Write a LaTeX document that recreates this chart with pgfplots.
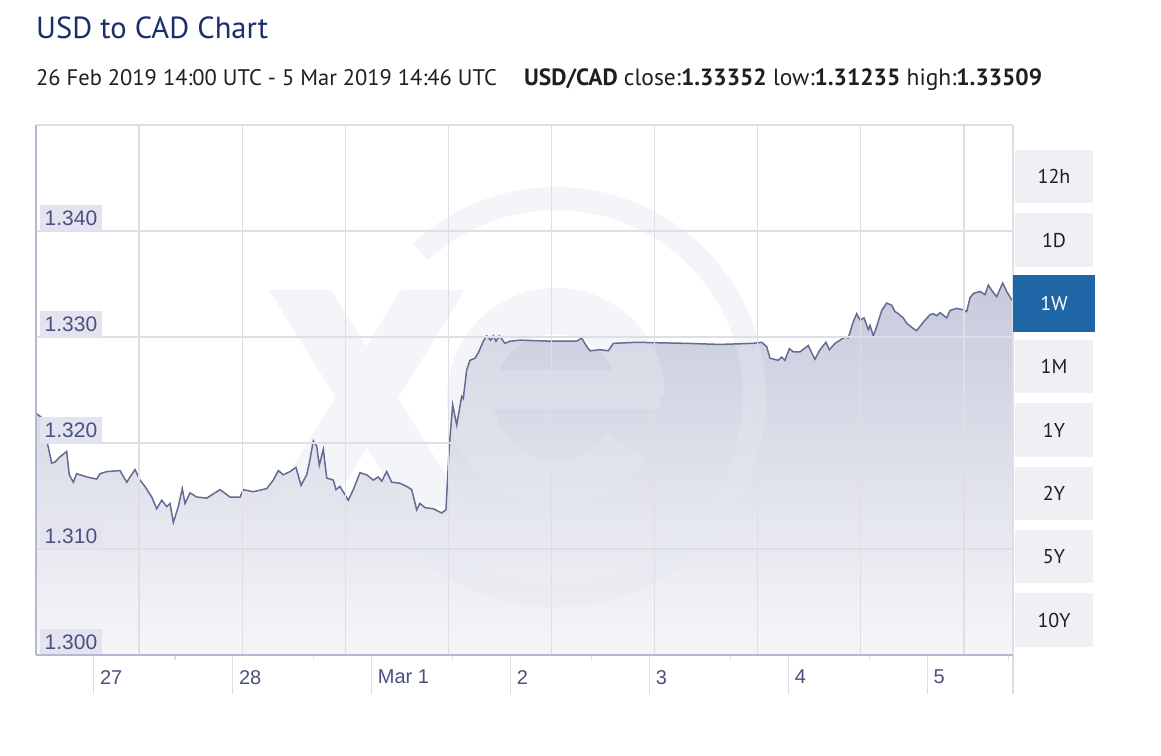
\documentclass[border=0pt]{standalone}
\usepackage{pgfplots}
\pgfplotsset{compat=1.18}
\usepackage{pgfplotstable}
\usepackage{fontspec}
\setmainfont{Liberation Sans}
\newfontfamily\ssp{PT Sans}
\definecolor{titleblue}{HTML}{1B2E6B}
\definecolor{linec}{HTML}{646B95}
\definecolor{labtext}{HTML}{4A5180}
\definecolor{labbg}{HTML}{E3E4EF}
\definecolor{gridc}{HTML}{DEDEE4}
\definecolor{axisc}{HTML}{B5B8D4}
\definecolor{btnbg}{HTML}{EFEFF4}
\definecolor{btnsel}{HTML}{1F66A6}
\definecolor{filltop}{HTML}{C7CADC}
\definecolor{fillbot}{HTML}{F6F6F9}
\definecolor{wm}{HTML}{E6E8F0}

% hours since 26 Feb 2019 14:00 UTC, USD/CAD rate
\pgfplotstableread{
h v
0.00 1.3228
0.98 1.3224
1.85 1.3203
2.71 1.3181
3.28 1.3182
4.15 1.3187
5.30 1.3192
5.75 1.3170
6.44 1.3163
7.03 1.3171
8.76 1.3168
10.49 1.3166
11.06 1.3171
12.21 1.3173
14.51 1.3174
15.67 1.3163
17.10 1.3175
17.96 1.3165
18.83 1.3159
19.99 1.3149
20.85 1.3138
21.71 1.3146
22.58 1.3140
23.15 1.3143
23.72 1.3125
24.58 1.3140
25.27 1.3157
25.74 1.3143
26.60 1.3153
27.76 1.3149
29.49 1.3148
31.78 1.3156
33.51 1.3149
35.24 1.3149
35.81 1.3156
37.54 1.3154
39.85 1.3157
40.99 1.3165
41.86 1.3174
42.72 1.3170
43.88 1.3173
44.91 1.3177
45.78 1.3160
46.76 1.3170
47.21 1.3181
47.90 1.3202
48.49 1.3197
48.94 1.3179
49.63 1.3194
50.22 1.3167
51.36 1.3165
51.82 1.3156
52.51 1.3159
53.95 1.3146
54.81 1.3156
55.97 1.3172
57.12 1.3170
58.27 1.3165
59.13 1.3168
59.72 1.3164
60.58 1.3173
61.44 1.3163
62.88 1.3162
64.03 1.3159
64.90 1.3156
65.76 1.3137
66.33 1.3143
67.20 1.3139
68.63 1.3138
70.08 1.3134
70.82 1.3137
71.39 1.3197
71.98 1.3236
72.67 1.3217
73.54 1.3244
73.81 1.3242
74.40 1.3269
74.97 1.3278
75.83 1.3280
76.40 1.3285
77.27 1.3296
77.85 1.3301
78.54 1.3297
78.99 1.3301
79.46 1.3296
80.03 1.3301
81.01 1.3294
81.88 1.3296
83.61 1.3297
89.36 1.3296
93.40 1.3296
94.26 1.3299
95.13 1.3291
95.70 1.3287
97.42 1.3288
98.86 1.3287
99.73 1.3294
103.76 1.3295
112.40 1.3294
118.15 1.3293
123.91 1.3294
125.36 1.3295
126.22 1.3291
126.79 1.3280
128.22 1.3278
128.81 1.3281
129.38 1.3278
130.13 1.3289
130.82 1.3286
131.97 1.3286
133.41 1.3292
133.99 1.3285
134.56 1.3279
135.43 1.3288
136.46 1.3295
137.04 1.3288
138.02 1.3294
138.88 1.3297
139.75 1.3300
140.32 1.3299
141.08 1.3313
141.77 1.3322
142.34 1.3316
143.03 1.3318
143.78 1.3307
144.07 1.3311
144.64 1.3301
145.22 1.3310
146.09 1.3325
146.95 1.3332
147.81 1.3330
148.38 1.3324
148.96 1.3322
149.82 1.3318
150.40 1.3313
151.55 1.3308
152.13 1.3306
153.27 1.3314
154.43 1.3321
155.00 1.3322
155.59 1.3320
156.16 1.3323
157.31 1.3318
157.89 1.3325
159.04 1.3327
159.91 1.3326
160.77 1.3324
161.34 1.3337
161.92 1.3341
163.07 1.3343
163.93 1.3340
164.51 1.3349
165.09 1.3344
165.95 1.3338
166.99 1.3351
167.68 1.3343
168.55 1.3335
168.77 1.3335
}\usdcad

\begin{document}
\begin{tikzpicture}[x=1pt,y=1pt]
\useasboundingbox (0,0) rectangle (1161,755);
\fill[white] (0,0) rectangle (1161,755);

% title and subtitle
\node[anchor=base west, inner sep=0pt, text=titleblue, font=\ssp\fontsize{30.5}{36}\selectfont] at (36,716) {USD to CAD Chart};
\node[anchor=base west, inner sep=0pt, text=black!88, font=\ssp\fontsize{22.5}{26}\selectfont] at (36,669) {26 Feb 2019 14:00 UTC - 5 Mar 2019 14:46 UTC};
\node[anchor=base west, inner sep=0pt, text=black!88, font=\ssp\fontsize{23.5}{26}\selectfont] at (524,669) {\textbf{USD/CAD} close:\textbf{1.33352} low:\textbf{1.31235} high:\textbf{1.33509}};

\begin{axis}[
  axis on top,
  at={(36pt,100pt)}, anchor=south west, scale only axis,
  width=977pt, height=530pt,
  xmin=0, xmax=168.77, ymin=1.300, ymax=1.350,
  axis line style={draw=none},
  xtick={10,34,58,82,106,130,154,168.77},
  xticklabels={27,28,Mar 1,2,3,4,5,{}},
  minor xtick={24,48,72,96,120,144,168},
  xtick pos=bottom, ytick pos=left,
  tick align=outside,
  major tick length=39pt, minor tick length=5pt,
  xtick style={draw=gridc, line width=1.2pt},
  xticklabel style={anchor=north west, inner sep=0pt, xshift=6pt, yshift=24pt, text=labtext, font=\fontsize{20}{24}\selectfont},
  minor tick style={draw=axisc!80!black, line width=1pt},
  ytick={1.30,1.31,1.32,1.33,1.34},
  yticklabels={1.300,1.310,1.320,1.330,1.340},
  ytick style={draw=none},
  yticklabel style={anchor=south west, fill=labbg, inner xsep=4.5pt, inner ysep=0pt, minimum height=26pt, text=labtext, font=\fontsize{21}{24}\selectfont, xshift=43pt},
  ymajorgrids,
  extra x ticks={17.81,35.62,53.43,71.24,89.05,106.86,124.67,142.48,160.29},
  extra x tick labels={},
  extra x tick style={xmajorgrids=true, major tick length=0pt},
  grid style={draw=gridc, line width=1.3pt},
]
\addplot[draw=none, top color=filltop, bottom color=fillbot] table[x=h,y=v]{\usdcad} |- (axis cs:0,1.300) -- cycle;
% faint "xe" watermark (decoration)
\begin{scope}[transparency group, opacity=0.42]
  \draw[wm, line width=23pt] (axis cs:89.83,1.32434) ++(-132:198.5pt) arc[start angle=-132, end angle=133, radius=198.5pt];
  \draw[wm, line width=46pt] (axis cs:89.83,1.32434) ++(0:86pt) arc[start angle=0, end angle=325, radius=86pt];
  \fill[wm] (axis cs:74.97,1.32321) rectangle (axis cs:107.79,1.32689);
  \fill[wm] (axis cs:40.25,1.33443) -- (axis cs:50.96,1.33443) -- (axis cs:74.11,1.31406) -- (axis cs:63.40,1.31406) -- cycle
            (axis cs:63.05,1.33443) -- (axis cs:74.11,1.33443) -- (axis cs:50.96,1.31406) -- (axis cs:40.25,1.31406) -- cycle;
\end{scope}
\addplot[draw=linec, line width=1.5pt] table[x=h,y=v]{\usdcad};
\end{axis}

% axis frame
\draw[gridc, line width=1.3pt] (36,630) -- (1013,630);
\draw[gridc, line width=1.3pt] (1013,630) -- (1013,67);
\draw[axisc, line width=1.5pt] (36,630) -- (36,100);
\draw[axisc, line width=2pt] (36,100) -- (1013,100);

% range buttons
\foreach \lab/\t/\b in {12h/150/203, 1D/213/267, 1M/340/393, 1Y/403/457, 2Y/467/520, 5Y/530/583, 10Y/593/647}{
  \fill[btnbg] (1015,755-\b) rectangle (1093,755-\t);
  \node[font=\ssp\fontsize{20}{24}\selectfont, text=black!88] at (1054,{755-(\t+\b)/2}) {\lab};
}
\fill[btnsel] (1013,755-332) rectangle (1095,755-275);
\node[font=\ssp\fontsize{20}{24}\selectfont, text=white] at (1054,{755-303.5}) {1W};
\end{tikzpicture}
\end{document}
